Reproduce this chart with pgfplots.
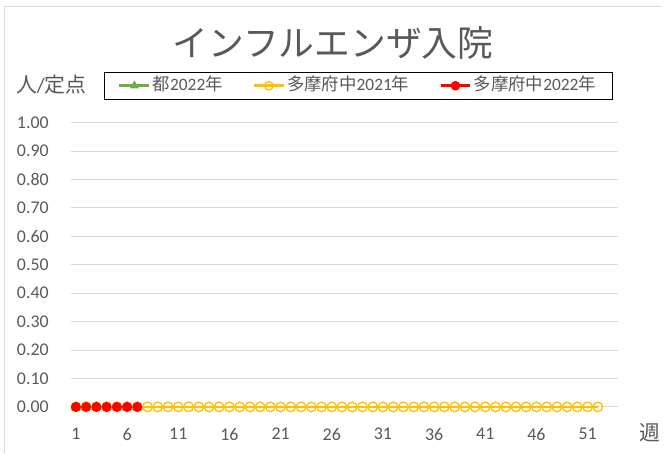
\documentclass[border=0pt]{standalone}
\usepackage{fontspec}
\setmainfont{Carlito}
\newfontfamily\cjk{Noto Sans CJK JP}
\usepackage{pgfplots}
\pgfplotsset{compat=1.18}
\definecolor{cgreen}{HTML}{70AD47}
\definecolor{corange}{HTML}{FFC000}
\definecolor{cred}{HTML}{FF0000}
\definecolor{cgrid}{HTML}{D9D9D9}
\definecolor{ctext}{HTML}{595959}
\begin{document}
\begin{tikzpicture}
\begin{scope}[x=1bp,y=1bp]
\path[fill=white] (0,0) rectangle (664,454);
\draw[cgrid,line width=1bp] (5,0) -- (5,447) -- (664,447);
\node[ctext,font=\cjk\fontsize{36}{40}\selectfont] at (334,411) {インフルエンザ入院};
\node[ctext,font=\fontsize{21}{24}\selectfont] at (51.5,369) {{\cjk 人}/{\cjk 定点}};
\node[ctext,font=\cjk\fontsize{21}{24}\selectfont] at (652,20) {週};
\end{scope}
\begin{axis}[
  at={(71bp,46bp)}, anchor=south west,
  scale only axis, width=549bp, height=285bp,
  xmin=0.5, xmax=54, ymin=0, ymax=1,
  axis line style={draw=none},
  ymajorgrids, grid style={cgrid,line width=1bp},
  xtick={1,6,...,51}, ytick={0,0.1,...,1.0},
  major tick length=0pt,
  /pgf/number format/assume math mode=true,
  yticklabel={\pgfmathprintnumber[fixed,fixed zerofill,precision=2]{\tick}},
  tick label style={ctext,font=\fontsize{18}{21}\selectfont,inner sep=0pt},
  yticklabel style={anchor=east,xshift=-22bp},
  xticklabel style={anchor=north,yshift=-21bp},
  clip=false,
  legend columns=3,
  legend style={at={(0.5246,1.1298)},anchor=center,draw=black,
    font=\fontsize{17.5}{20}\selectfont,text=ctext,
    inner xsep=14bp, inner ysep=4bp,
    nodes={inner sep=2bp,text height=12bp,text depth=3bp},
    /tikz/every even column/.append style={column sep=28bp}},
  legend image code/.code={%
    \path[draw,line width=2.6bp] (0bp,0bp) -- (30bp,0bp);
    \path plot[only marks,mark size=4.3bp] coordinates {(15bp,0bp)};},
]
\addplot[cgreen,line width=2.6bp,mark=triangle*,mark size=5bp,mark options={fill=cgreen,line width=1bp}] coordinates {
(1,0)(2,0)(3,0)(4,0)(5,0)(6,0)(7,0)};
\addlegendentry{{\cjk 都}2022{\cjk 年}}
\addplot[corange,line width=2.6bp,mark=o,mark size=4.8bp,mark options={fill=white,line width=1.3bp}] coordinates {
(1,0)(2,0)(3,0)(4,0)(5,0)(6,0)(7,0)(8,0)(9,0)(10,0)
(11,0)(12,0)(13,0)(14,0)(15,0)(16,0)(17,0)(18,0)(19,0)(20,0)
(21,0)(22,0)(23,0)(24,0)(25,0)(26,0)(27,0)(28,0)(29,0)(30,0)
(31,0)(32,0)(33,0)(34,0)(35,0)(36,0)(37,0)(38,0)(39,0)(40,0)
(41,0)(42,0)(43,0)(44,0)(45,0)(46,0)(47,0)(48,0)(49,0)(50,0)
(51,0)(52,0)};
\addlegendentry{{\cjk 多摩府中}2021{\cjk 年}}
\addplot[cred,line width=2.6bp,mark=*,mark size=4.5bp,mark options={fill=cred,line width=1bp}] coordinates {
(1,0)(2,0)(3,0)(4,0)(5,0)(6,0)(7,0)};
\addlegendentry{{\cjk 多摩府中}2022{\cjk 年}}
\end{axis}
\end{tikzpicture}
\end{document}
